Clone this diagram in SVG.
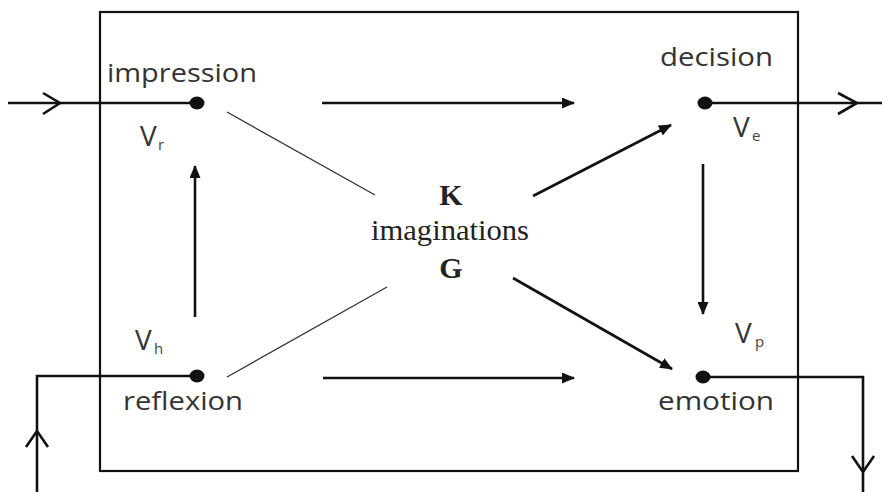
<svg xmlns="http://www.w3.org/2000/svg" width="882" height="492" viewBox="0 0 882 492">
<defs>
<style>
.lbl{font-family:"Open Sans","Liberation Sans",sans-serif;font-size:26px;fill:#333}
.v{font-family:"Open Sans","Liberation Sans",sans-serif;font-size:28px;fill:#333}
.sub{font-family:"Open Sans","Liberation Sans",sans-serif;font-size:15px;fill:#444}
.ser{font-family:"Liberation Serif","Times New Roman",serif;font-size:30px;fill:#222}
.b{font-weight:bold}
.ln{stroke:#111;stroke-width:2.6;fill:none}
.thin{stroke:#333;stroke-width:1.3;fill:none}
.dot{fill:#111}
</style>
<marker id="ah" markerWidth="13" markerHeight="11" refX="12" refY="5.5" orient="auto" markerUnits="userSpaceOnUse">
<path d="M0,0 L13,5.5 L0,11 Z" fill="#111"/>
</marker>
</defs>
<rect width="882" height="492" fill="#fff"/>
<rect x="100" y="12" width="698" height="459" fill="none" stroke="#111" stroke-width="2.2"/>
<g id="connectors">
<line class="ln" x1="8" y1="103" x2="197" y2="103"/>
<polyline class="ln" points="43,93 60,103 43,114"/>
<line class="ln" x1="705" y1="103" x2="882" y2="103"/>
<polyline class="ln" points="838,93 857,103 838,114"/>
<polyline class="ln" points="197,376 37,376 37,492"/>
<polyline class="ln" points="26,447 37,431 48,447"/>
<polyline class="ln" points="852,456 863,472 874,456"/>
<polyline class="ln" points="703,377 863,377 863,492"/>
<line class="ln" x1="322" y1="103" x2="574" y2="103" marker-end="url(#ah)"/>
<line class="ln" x1="323" y1="378" x2="574" y2="378" marker-end="url(#ah)"/>
<line class="ln" x1="195" y1="317" x2="195" y2="166" marker-end="url(#ah)"/>
<line class="ln" x1="703" y1="164" x2="703" y2="314" marker-end="url(#ah)"/>
<line class="ln" x1="533" y1="196" x2="671" y2="125" marker-end="url(#ah)"/>
<line class="ln" x1="513" y1="278" x2="672" y2="369" stroke-width="3" marker-end="url(#ah)"/>
<line class="thin" x1="227" y1="112" x2="375" y2="195"/>
<line class="thin" x1="227" y1="377" x2="387" y2="287"/>
</g>
<g id="impression">
<ellipse class="dot" cx="197" cy="103" rx="7.5" ry="6.5"/>
<text class="lbl" x="107" y="82" textLength="150" lengthAdjust="spacingAndGlyphs">impression</text>
<text class="v" x="140" y="146">V</text><text class="sub" x="158" y="150">r</text>
</g>
<g id="decision">
<ellipse class="dot" cx="705" cy="103" rx="7.5" ry="6.5"/>
<text class="lbl" x="660" y="66" textLength="113" lengthAdjust="spacingAndGlyphs">decision</text>
<text class="v" x="733" y="137">V</text><text class="sub" x="752" y="141">e</text>
</g>
<g id="reflexion">
<ellipse class="dot" cx="197" cy="376" rx="7.5" ry="6.5"/>
<text class="lbl" x="123" y="410" textLength="120" lengthAdjust="spacingAndGlyphs">reflexion</text>
<text class="v" x="135" y="350">V</text><text class="sub" x="154" y="354">h</text>
</g>
<g id="emotion">
<ellipse class="dot" cx="703" cy="377" rx="7.5" ry="6.5"/>
<text class="lbl" x="658" y="410" textLength="116" lengthAdjust="spacingAndGlyphs">emotion</text>
<text class="v" x="735" y="343">V</text><text class="sub" x="755" y="347">p</text>
</g>
<g id="imaginations">
<text class="ser b" x="451" y="205" text-anchor="middle">K</text>
<text class="ser" x="371" y="240" textLength="158" lengthAdjust="spacingAndGlyphs">imaginations</text>
<text class="ser b" x="451" y="278" text-anchor="middle">G</text>
</g>
</svg>
